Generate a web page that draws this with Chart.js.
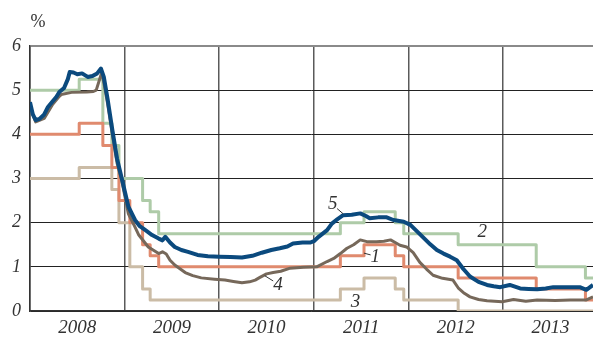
<!DOCTYPE html>
<html>
<head>
<meta charset="utf-8">
<script src="https://cdn.jsdelivr.net/npm/chart.js@4"></script>
<style>
  html, body { margin: 0; padding: 0; background: #fff; }
  #wrap { width: 593px; height: 342px; position: relative; }
</style>
</head>
<body>
<div id="wrap"><canvas id="myChart"></canvas></div>
<script>
// ECB policy rate change dates (decimal years), last entry = right edge
var policyDates = [2008.0, 2008.52, 2008.77, 2008.865, 2008.94, 2009.055, 2009.19, 2009.27, 2009.36,
  2011.28, 2011.53, 2011.86, 2011.95, 2012.525, 2013.35, 2013.87, 2013.95];
var rate1 = [4.0, 4.25, 3.75, 3.25, 2.5, 2.0, 1.5, 1.25, 1.0, 1.25, 1.5, 1.25, 1.0, 0.75, 0.5, 0.25, 0.25];
var rate2 = [5.0, 5.25, 4.25, 3.75, 3.0, 3.0, 2.5, 2.25, 1.75, 2.0, 2.25, 2.0, 1.75, 1.5, 1.0, 0.75, 0.75];
var rate3 = [3.0, 3.25, 3.25, 2.75, 2.0, 1.0, 0.5, 0.25, 0.25, 0.5, 0.75, 0.5, 0.25, 0.0, 0.0, 0.0, 0.0];

// series 4 (market rate, short)
var dates4 = [2008.0, 2008.06, 2008.15, 2008.24, 2008.31, 2008.33, 2008.44, 2008.6, 2008.67, 2008.7, 2008.76,
  2008.82, 2008.87, 2008.92, 2008.97, 2009.04, 2009.11, 2009.15, 2009.25, 2009.36, 2009.4, 2009.44, 2009.48,
  2009.53, 2009.64, 2009.72, 2009.81, 2009.95, 2010.06, 2010.15, 2010.24, 2010.32, 2010.38, 2010.43, 2010.5,
  2010.57, 2010.65, 2010.75, 2010.89, 2011.03, 2011.14, 2011.21, 2011.28, 2011.35, 2011.42, 2011.49, 2011.56,
  2011.66, 2011.74, 2011.81, 2011.86, 2011.91, 2011.98, 2012.05, 2012.12, 2012.19, 2012.26, 2012.36, 2012.47,
  2012.53, 2012.59, 2012.65, 2012.74, 2012.83, 2012.99, 2013.11, 2013.24, 2013.36, 2013.55, 2013.71, 2013.88, 2013.95];
var values4 = [4.62, 4.28, 4.36, 4.68, 4.86, 4.9, 4.95, 4.96, 4.97, 5.0, 5.41,
  4.7, 4.0, 3.35, 2.95, 2.2, 1.9, 1.72, 1.45, 1.3, 1.34, 1.29, 1.15,
  1.04, 0.87, 0.8, 0.75, 0.72, 0.7, 0.67, 0.64, 0.66, 0.7, 0.76, 0.84,
  0.87, 0.9, 0.97, 0.99, 1.0, 1.12, 1.19, 1.3, 1.42, 1.5, 1.61, 1.57,
  1.57, 1.58, 1.61, 1.55, 1.49, 1.45, 1.32, 1.1, 0.95, 0.81, 0.74, 0.7,
  0.51, 0.4, 0.32, 0.26, 0.23, 0.21, 0.26, 0.22, 0.25, 0.24, 0.25, 0.25, 0.32];

// series 5 (market rate, long)
var dates5 = [2008.0, 2008.03, 2008.06, 2008.1, 2008.15, 2008.19, 2008.24, 2008.28, 2008.31, 2008.36, 2008.4,
  2008.42, 2008.46, 2008.5, 2008.55, 2008.61, 2008.66, 2008.71, 2008.75, 2008.78, 2008.82, 2008.87, 2008.92,
  2008.97, 2009.04, 2009.11, 2009.16, 2009.22, 2009.29, 2009.36, 2009.4, 2009.43, 2009.48, 2009.53, 2009.6,
  2009.67, 2009.77, 2009.88, 2010.0, 2010.12, 2010.24, 2010.35, 2010.45, 2010.55, 2010.64, 2010.72, 2010.78,
  2010.88, 2010.96, 2011.0, 2011.05, 2011.14, 2011.19, 2011.25, 2011.31, 2011.4, 2011.49, 2011.55, 2011.59,
  2011.68, 2011.77, 2011.84, 2011.95, 2012.02, 2012.12, 2012.23, 2012.3, 2012.37, 2012.44, 2012.51, 2012.58,
  2012.65, 2012.74, 2012.83, 2012.9, 2012.97, 2013.07, 2013.18, 2013.27, 2013.36, 2013.45, 2013.53, 2013.65,
  2013.81, 2013.88, 2013.95];
var values5 = [4.73, 4.45, 4.32, 4.35, 4.45, 4.62, 4.75, 4.85, 4.96, 5.05, 5.25,
  5.41, 5.4, 5.36, 5.38, 5.3, 5.32, 5.38, 5.49, 5.3, 4.8, 4.1, 3.45,
  3.0, 2.36, 2.06, 1.92, 1.83, 1.72, 1.64, 1.6, 1.68, 1.55, 1.45, 1.38,
  1.34, 1.27, 1.24, 1.23, 1.22, 1.21, 1.25, 1.32, 1.38, 1.42, 1.46, 1.53,
  1.55, 1.55, 1.58, 1.68, 1.83, 1.98, 2.08, 2.17, 2.18, 2.21, 2.15, 2.1,
  2.12, 2.12, 2.06, 2.02, 1.95, 1.74, 1.51, 1.38, 1.3, 1.23, 1.15, 0.95,
  0.78, 0.66, 0.59, 0.56, 0.54, 0.59, 0.51, 0.5, 0.49, 0.51, 0.54, 0.54,
  0.54, 0.48, 0.59];

var yearTicks = [2008, 2009, 2010, 2011, 2012, 2013];
var yTicks = [0, 1, 2, 3, 4, 5, 6];

function toPoints(xs, ys) {
  return xs.map(function(x, i) { return {x: x, y: ys[i]}; });
}

var serifItalic = {family: 'Liberation Serif', style: 'italic', size: 19};

// series numbers with short leader lines
var seriesLabels = {
  id: 'seriesLabels',
  afterDatasetsDraw: function(chart) {
    var c = chart.ctx;
    var x = chart.scales.x, y = chart.scales.y;
    c.save();
    c.strokeStyle = '#333';
    c.lineWidth = 1;
    var leaders = [[2011.245, 2.32, 2011.31, 2.2], [2011.53, 1.31, 2011.6, 1.27], [2010.48, 0.8, 2010.57, 0.68]];
    leaders.forEach(function(l) {
      c.beginPath();
      c.moveTo(x.getPixelForValue(l[0]), y.getPixelForValue(l[1]));
      c.lineTo(x.getPixelForValue(l[2]), y.getPixelForValue(l[3]));
      c.stroke();
    });
    c.fillStyle = '#333';
    c.font = 'italic 19px "Liberation Serif"';
    c.textAlign = 'center';
    c.textBaseline = 'middle';
    var labels = [['5', 2011.2, 2.42], ['1', 2011.65, 1.22], ['4', 2010.62, 0.6], ['3', 2011.44, 0.21], ['2', 2012.78, 1.78]];
    labels.forEach(function(l) {
      c.fillText(l[0], x.getPixelForValue(l[1]), y.getPixelForValue(l[2]));
    });
    c.font = '18px "Liberation Serif"';
    c.fillText('%', 38, 22);
    c.restore();
  }
};

var ctx = document.getElementById('myChart');
var myChart = new Chart(ctx, {
  type: 'line',
  data: {
    datasets: [
      {label: '5', data: toPoints(dates5, values5), borderColor: '#0b4a7e', borderWidth: 4},
      {label: '4', data: toPoints(dates4, values4), borderColor: '#76685a', borderWidth: 3},
      {label: '1', data: toPoints(policyDates, rate1), borderColor: '#e08a6e', borderWidth: 3, stepped: 'before'},
      {label: '2', data: toPoints(policyDates, rate2), borderColor: '#aecba8', borderWidth: 3, stepped: 'before'},
      {label: '3', data: toPoints(policyDates, rate3), borderColor: '#cbbca6', borderWidth: 3, stepped: 'before'}
    ]
  },
  options: {
    responsive: true,
    maintainAspectRatio: false,
    animation: false,
    layout: {padding: {top: 46, left: 0, right: 0, bottom: 0}},
    elements: {point: {radius: 0}, line: {tension: 0, borderJoinStyle: 'round'}},
    plugins: {legend: {display: false}, tooltip: {enabled: false}},
    scales: {
      x: {
        type: 'linear',
        min: 2008,
        max: 2013.95,
        afterBuildTicks: function(scale) {
          var t = [];
          yearTicks.forEach(function(v) { t.push({value: v}); t.push({value: v + 0.5}); });
          scale.ticks = t;
        },
        afterFit: function(scale) { scale.height = 31; },
        grid: {
          drawTicks: false,
          color: function(c) { return (c.tick && c.tick.value % 1 === 0) ? '#5a5a5a' : 'rgba(0,0,0,0)'; },
          lineWidth: 1.5
        },
        border: {color: '#333', width: 1.5},
        ticks: {
          padding: 6,
          maxRotation: 0,
          autoSkip: false,
          color: '#333',
          font: serifItalic,
          callback: function(v) { return (v % 1 === 0.5) ? String(Math.floor(v)) : ''; }
        }
      },
      y: {
        min: 0,
        max: 6,
        afterBuildTicks: function(scale) {
          scale.ticks = yTicks.map(function(v) { return {value: v}; });
        },
        afterFit: function(scale) { scale.width = 30; },
        grid: {
          drawTicks: false,
          color: function(c) { return (c.tick && c.tick.value === 6) ? '#8a8a8a' : '#222'; },
          lineWidth: function(c) { return (c.tick && c.tick.value === 6) ? 2 : 1; }
        },
        border: {color: '#333', width: 1.5},
        ticks: {padding: 9, color: '#333', font: {family: 'Liberation Serif', style: 'italic', size: 18}}
      }
    }
  },
  plugins: [seriesLabels]
});
</script>
</body>
</html>
